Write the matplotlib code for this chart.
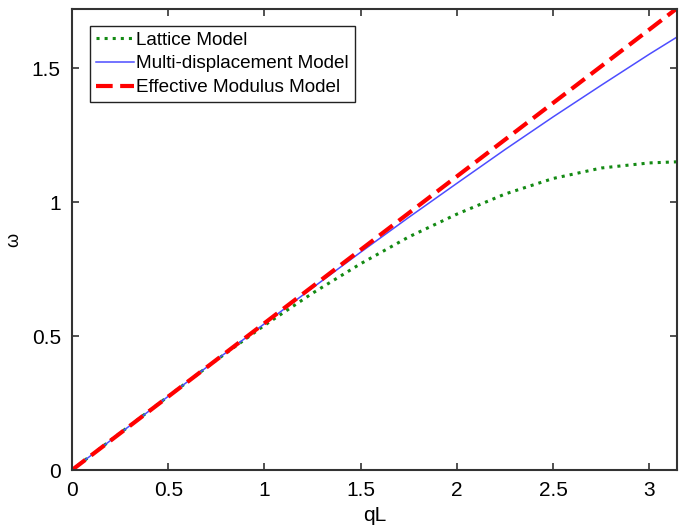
import matplotlib.pyplot as plt

# values
qL = [0, 0.25, 0.5, 0.75, 1.0, 1.25, 1.5, 1.75, 2.0, 2.25, 2.5, 2.75, 3.0, 3.1416]
lattice = [0, 0.138, 0.275, 0.41, 0.54, 0.66, 0.77, 0.87, 0.955, 1.03, 1.088, 1.127, 1.146, 1.15]
multi = [0, 0.1375, 0.275, 0.411, 0.546, 0.680, 0.813, 0.943, 1.07, 1.196, 1.318, 1.436, 1.552, 1.615]
effective = [0, 0.137, 0.274, 0.411, 0.548, 0.685, 0.822, 0.959, 1.096, 1.233, 1.37, 1.507, 1.644, 1.722]

plt.rcParams['font.family'] = ['Liberation Sans', 'DejaVu Sans']

fig = plt.figure(figsize=(6.81, 5.28), dpi=100)
ax = fig.add_axes([0.1057, 0.1098, 0.888, 0.873])

ax.plot(qL, lattice, ':', color='#138a13', lw=2.2, label='Lattice Model')
ax.plot(qL, multi, '-', color='#4d4dff', lw=1.1, label='Multi-displacement Model')
ax.plot(qL, effective, '--', color='#ff0000', lw=3, dashes=(4, 1.8), label='Effective Modulus Model')

ax.set_xlim(0, 3.1416)
ax.set_ylim(0, 1.72)
ax.set_xticks([0, 0.5, 1, 1.5, 2, 2.5, 3])
ax.set_xticklabels(['0', '0.5', '1', '1.5', '2', '2.5', '3'])
ax.set_yticks([0, 0.5, 1, 1.5])
ax.set_yticklabels(['0', '0.5', '1', '1.5'])
ax.tick_params(direction='in', top=True, right=True, length=5, width=1.2,
               labelsize=15, color='#333333', pad=8)
for s in ax.spines.values():
    s.set_linewidth(1.5)
    s.set_color('#333333')

ax.set_xlabel('qL', fontsize=15, labelpad=4)
ax.set_ylabel('ω', fontsize=13)
ax.yaxis.set_label_coords(-0.082, 0.5)

leg = ax.legend(loc='upper left', bbox_to_anchor=(0.03, 0.964), fontsize=13.6,
                handlelength=2.0, handletextpad=0.15, labelspacing=0.35,
                borderpad=0.3, borderaxespad=0, fancybox=False, framealpha=1)
leg.get_frame().set_edgecolor('#222222')
leg.get_frame().set_linewidth(1.0)

fig.savefig('out.png', dpi=100)
